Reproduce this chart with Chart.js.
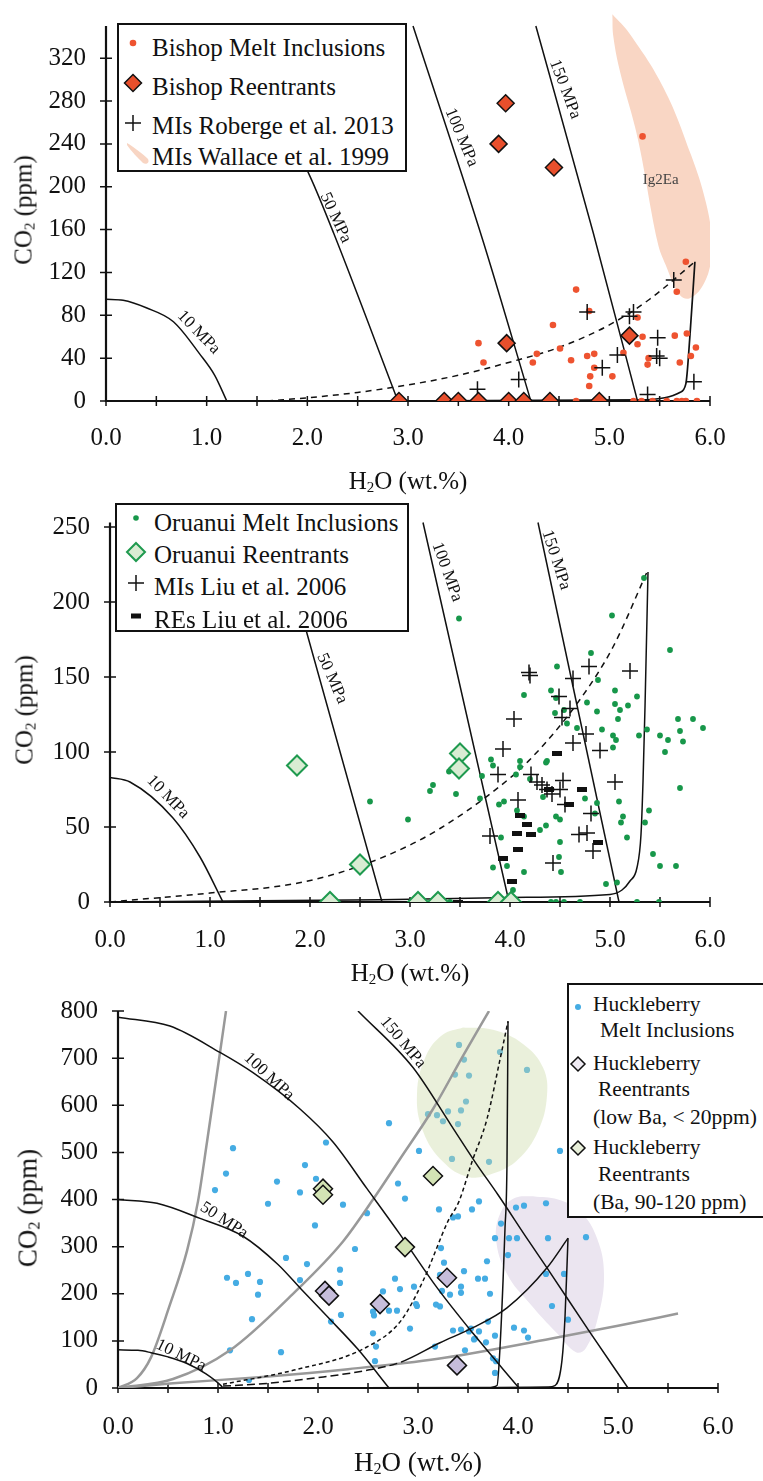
<!DOCTYPE html>
<html lang="en">
<head>
<meta charset="UTF-8"/>
<title>H2O - CO2 of melt inclusions and reentrants</title>
<script src="https://cdn.jsdelivr.net/npm/chart.js"></script>
<style>
    html, body {
        margin: 0;
        background: #fff;
    }
    body {
        position: relative;
        width: 763px;
        height: 1481px;
        overflow: hidden;
        font-family: "Liberation Serif", "Times New Roman", serif;
        color: #111;
    }
    .panel {
        position: absolute;
        left: 0;
        width: 763px;
    }
    .panel canvas {
        position: absolute;
        left: 0;
        top: 0;
    }
    .title {
        position: absolute;
        white-space: nowrap;
        line-height: 1;
        font-size: 25px;
        transform: translate(-50%, -50%);
    }
    .title.y {
        transform: translate(-50%, -50%) rotate(-90deg);
    }
    .title sub {
        font-size: 60%;
        line-height: 0;
        vertical-align: -0.2em;
    }
    .legend {
        position: absolute;
        box-sizing: border-box;
        border: 2px solid #111;
        background: #fff;
    }
    .legend .t {
        position: absolute;
        white-space: nowrap;
        line-height: 1;
        font-size: 25px;
    }
    .legend svg {
        position: absolute;
        overflow: visible;
    }
    #leg3 .t {
        font-size: 21.5px;
    }
</style>
</head>
<body>

<!-- Bishop -->
<div class="panel" style="top:0;height:500px">
    <canvas id="chartBishop" width="763" height="500"></canvas>
    <div class="title y" style="left:23px;top:210px">CO<sub>2</sub> (ppm)</div>
    <div class="title" style="left:408px;top:480px">H<sub>2</sub>O (wt.%)</div>
    <div class="legend" style="left:117px;top:23px;width:290px;height:149px">
        <svg width="1" height="1" style="left:14px;top:18px"><circle r="3.3" fill="#ee5330"/></svg>
        <div class="t" style="left:33px;top:10px">Bishop Melt Inclusions</div>
        <svg width="1" height="1" style="left:14px;top:58px"><polygon points="0,-8.5 8.5,0 0,8.5 -8.5,0" fill="#e84f2c" stroke="#111" stroke-width="1.5"/></svg>
        <div class="t" style="left:33px;top:49px">Bishop Reentrants</div>
        <svg width="1" height="1" style="left:14px;top:98px"><path d="M-8,0H8M0,-8V8" stroke="#111" stroke-width="1.5"/></svg>
        <div class="t" style="left:33px;top:88px">MIs Roberge et al. 2013</div>
        <svg width="1" height="1" style="left:0;top:0"><path d="M8,118 C13,121 24,129 29,134 C31,138 27,140 24,138 C19,133 12,126 8,120 Z" fill="#f8d5c3"/></svg>
        <div class="t" style="left:33px;top:119px">MIs Wallace et al. 1999</div>
    </div>
</div>

<!-- Oruanui -->
<div class="panel" style="top:500px;height:500px">
    <canvas id="chartOruanui" width="763" height="500"></canvas>
    <div class="title y" style="left:24px;top:210px">CO<sub>2</sub> (ppm)</div>
    <div class="title" style="left:410px;top:472px">H<sub>2</sub>O (wt.%)</div>
    <div class="legend" style="left:115px;top:3px;width:294px;height:129px">
        <svg width="1" height="1" style="left:19px;top:13px"><circle r="2.8" fill="#17974a"/></svg>
        <div class="t" style="left:37px;top:5px">Oruanui Melt Inclusions</div>
        <svg width="1" height="1" style="left:19px;top:47px"><polygon points="0,-9 9,0 0,9 -9,0" fill="#d9ecd3" stroke="#1f9a4f" stroke-width="2"/></svg>
        <div class="t" style="left:37px;top:37px">Oruanui Reentrants</div>
        <svg width="1" height="1" style="left:19px;top:78px"><path d="M-8,0H8M0,-8V8" stroke="#111" stroke-width="1.5"/></svg>
        <div class="t" style="left:37px;top:69px">MIs Liu et al. 2006</div>
        <svg width="1" height="1" style="left:19px;top:111px"><rect x="-5" y="-2.5" width="10" height="5" fill="#111"/></svg>
        <div class="t" style="left:37px;top:102px">REs Liu et al. 2006</div>
    </div>
</div>

<!-- Huckleberry -->
<div class="panel" style="top:1000px;height:481px">
    <canvas id="chartHuckleberry" width="763" height="481"></canvas>
    <div class="title y" style="left:28px;top:208px;font-size:27px">CO<sub>2</sub> (ppm)</div>
    <div class="title" style="left:418px;top:462px;font-size:27px">H<sub>2</sub>O (wt.%)</div>
    <div class="legend" id="leg3" style="left:567px;top:-17px;width:205px;height:235px">
        <svg width="1" height="1" style="left:9px;top:22px"><circle r="3" fill="#45ace3"/></svg>
        <div class="t" style="left:24px;top:9px">Huckleberry</div>
        <div class="t" style="left:31px;top:35px">Melt Inclusions</div>
        <svg width="1" height="1" style="left:9px;top:79px"><polygon points="0,-7 7,0 0,7 -7,0" fill="#efebf3" stroke="#111" stroke-width="1.5"/></svg>
        <div class="t" style="left:24px;top:68px">Huckleberry</div>
        <div class="t" style="left:29px;top:94px">Reentrants</div>
        <div class="t" style="left:24px;top:122px">(low Ba, &lt; 20ppm)</div>
        <svg width="1" height="1" style="left:9px;top:163px"><polygon points="0,-7 7,0 0,7 -7,0" fill="#e8efd9" stroke="#111" stroke-width="1.5"/></svg>
        <div class="t" style="left:24px;top:152px">Huckleberry</div>
        <div class="t" style="left:29px;top:179px">Reentrants</div>
        <div class="t" style="left:24px;top:207px">(Ba, 90-120 ppm)</div>
    </div>
</div>

<script>
// ---------- axis ticks ----------
const xTicks = [0, 0.5, 1, 1.5, 2, 2.5, 3, 3.5, 4, 4.5, 5, 5.5, 6];
const yTicksBishop = [0, 40, 80, 120, 160, 200, 240, 280, 320];
const yTicksOruanui = [0, 50, 100, 150, 200, 250];
const yTicksHuck = [0, 100, 200, 300, 400, 500, 600, 700, 800];

// ---------- Bishop (H2O wt.%, CO2 ppm) ----------
const bishopMI = [
    [5.76,130],[5.67,102],[4.67,104],[4.80,84],[4.44,71],[5.28,78],[5.33,60],[5.65,61],[5.77,63],
    [5.28,53],[5.86,50],[3.70,54],[4.51,49],[4.28,44],[5.14,45],[3.75,36],[4.24,36],[4.62,38],
    [4.78,42],[4.85,44],[4.85,31],[4.81,23],[4.80,14],[5.03,23],[5.39,40],[5.38,34],[5.70,36],
    [5.81,42],[4.67,0],[5.24,0],[5.32,0],[5.43,0],[5.57,0],[5.67,0],[5.72,0],[5.76,0],[5.87,0],
    [5.33,247]
];
const bishopRE = [
    [3.97,278],[3.90,240],[4.45,218],[3.98,54],[5.20,61],
    [2.91,0],[3.36,0],[3.50,0],[3.70,0],[4.00,0],[4.15,0],[4.41,0],[4.90,0]
];
const robergeMI = [
    [5.64,113],[4.78,83],[5.24,83],[5.20,79],[5.48,59],[5.08,43],[5.47,42],[5.50,40],
    [4.93,31],[4.10,20],[3.69,11],[5.84,18],[5.38,6]
];
const wallaceField = [
    [5.03,361],[5.20,343],[5.54,292],[5.81,230],[5.96,185],[6.02,150],[6.01,130],[5.93,108],
    [5.80,96],[5.70,99],[5.56,127],[5.48,148],[5.28,246],[5.11,306],[5.04,340],[5.03,361]
];
const bishopIso10 = [[0,95],[0.17,94],[0.40,87],[0.67,74],[0.93,44],[1.08,24],[1.20,0]];
const bishopIso50 = [[1.27,350],[2.03,209],[2.26,157],[2.90,0]];
const bishopIso100 = [[3.05,350],[3.75,148],[4.22,0]];
const bishopIso150 = [[4.27,350],[4.84,157],[5.28,0]];
const bishopOpen = [[1.6,0],[2.0,3],[2.5,8],[3.0,15],[3.5,24],[4.0,36],[4.5,50],[5.0,71],[5.4,95],[5.85,130]];
const bishopClosed = [[2.9,0],[5.3,1],[5.55,3],[5.70,8],[5.76,16],[5.80,60],[5.85,130]];

// ---------- Oruanui ----------
const oruanuiMI = [
    [5.34,216],[3.49,189],[5.02,191],[5.60,168],[4.81,166],[4.47,157],[4.88,148],[5.05,141],[4.41,141],
    [4.14,138],[5.27,137],[4.77,133],[5.05,132],[4.46,136],[5.10,128],[5.18,131],[4.54,128],[4.87,127],
    [4.45,126],[5.08,122],[5.68,122],[5.83,122],[5.93,116],[4.57,119],[4.67,116],[4.92,115],[5.37,115],
    [5.70,114],[5.50,111],[5.58,108],[5.73,107],[5.29,111],[5.03,111],[5.06,108],[5.03,103],[5.55,100],
    [3.81,95],[4.10,94],[4.37,94],[3.39,87],[3.23,78],[3.20,74],[3.46,72],[2.98,55],[3.72,84],[3.83,91],
    [4.10,90],[4.06,85],[4.20,82],[4.36,93],[3.70,69],[3.89,65],[3.94,67],[4.33,70],[4.75,69],[4.87,66],
    [4.85,59],[4.46,57],[4.50,55],[4.14,57],[4.07,61],[4.36,51],[4.30,48],[3.91,43],[4.50,40],[4.49,30],
    [4.51,20],[3.83,23],[3.97,24],[4.14,20],[4.03,8],[4.96,12],[5.07,13],[5.09,67],[5.13,57],[5.11,53],
    [5.17,43],[5.39,61],[5.35,53],[5.43,32],[5.50,24],[5.66,24],[5.70,76],[2.60,67],
    [3.40,0],[4.41,0],[4.46,0],[4.54,0],[4.70,0],[5.27,0],[5.49,0]
];
const oruanuiRE = [[1.87,91],[2.50,25],[2.20,0],[3.50,99],[3.49,89],[3.08,0],[3.28,0],[3.88,0],[4.01,0]];
const liuMI = [
    [4.19,153],[4.20,151],[4.79,157],[5.20,154],[4.63,149],[4.49,137],[4.60,129],[4.52,123],[4.04,122],
    [4.76,112],[4.63,106],[3.93,102],[4.90,101],[3.88,85],[4.21,85],[4.27,80],[4.32,78],[4.37,75],
    [4.42,72],[4.50,75],[4.53,81],[5.05,80],[4.08,68],[4.55,65],[4.81,59],[3.80,44],[4.69,45],[4.77,46],
    [4.83,34],[4.43,26]
];
const liuRE = [
    [4.47,99],[4.39,75],[4.72,75],[4.59,65],[4.10,58],[4.17,52],[4.07,46],[4.21,45],[4.88,40],
    [4.08,35],[3.93,29],[4.02,14],[3.48,0]
];
const oruanuiIso10 = [[0,83],[0.2,80],[0.63,56],[0.9,30],[1.13,0]];
const oruanuiIso50 = [[1.66,253],[2.72,0]];
const oruanuiIso100 = [[3.13,253],[3.99,0]];
const oruanuiIso150 = [[4.28,253],[5.09,0]];
const oruanuiOpen = [[0,0],[1.0,6],[1.87,12.5],[2.5,24],[3.0,38],[3.3,49],[3.8,72],[4.2,95],[4.7,135],[5.03,170],[5.37,220]];
const oruanuiClosed = [[0,0],[2.7,1.5],[4.0,3],[5.0,5],[5.12,8],[5.2,14],[5.27,23],[5.31,45],[5.33,80],[5.35,130],[5.38,220]];

// ---------- Huckleberry ----------
const huckMI = [
    [1.15,509],[1.08,455],[0.97,420],[2.08,521],[1.87,473],[1.98,444],[1.59,438],[1.82,415],[1.50,391],
    [2.25,389],[2.49,371],[1.97,345],[2.71,562],[2.80,434],[3.41,728],[3.82,713],[3.46,697],[4.09,675],
    [3.37,665],[3.51,663],[3.48,608],[3.10,581],[3.19,579],[3.30,587],[3.43,589],[3.25,566],[3.40,560],
    [3.01,503],[3.34,486],[3.71,480],[4.42,503],[2.87,402],[3.21,379],[3.61,396],[3.54,379],[3.35,362],
    [3.40,364],[3.83,349],[3.98,383],[4.06,387],[4.28,392],[3.77,318],[3.91,318],[3.99,318],[4.30,318],
    [4.68,320],[2.37,295],[1.68,276],[1.89,263],[2.22,251],[2.22,223],[1.82,229],[1.09,234],[1.18,223],
    [1.30,242],[1.42,225],[1.40,198],[1.34,146],[1.12,80],[1.63,76],[1.31,17],[2.13,141],[2.23,155],
    [2.65,205],[2.77,232],[2.82,210],[2.96,215],[2.71,164],[2.79,164],[2.55,162],[2.56,154],[2.98,178],
    [2.99,174],[2.55,116],[2.58,88],[2.57,57],[2.92,126],[3.23,297],[3.26,266],[3.46,248],[3.22,240],
    [3.24,206],[3.32,198],[3.43,215],[3.43,202],[3.60,232],[3.67,232],[3.69,269],[3.72,200],[3.18,177],
    [3.22,173],[3.35,122],[3.43,124],[3.51,120],[3.53,126],[3.61,120],[3.56,103],[3.57,105],[3.68,97],
    [3.70,141],[3.17,88],[3.47,80],[3.77,111],[3.75,63],[3.78,57],[3.77,32],[3.90,282],[4.28,242],
    [4.46,242],[4.34,174],[4.50,145],[3.96,128],[4.06,122],[4.10,107]
];
const huckRELowBa = [[2.07,206],[2.11,196],[2.62,178],[3.29,234],[3.39,48]];
const huckREHighBa = [[2.05,423],[2.05,410],[3.15,450],[2.87,299]];
const greenField = [
    [3.45,765],[3.75,760],[4.05,730],[4.25,680],[4.29,620],[4.20,545],[4.00,485],[3.75,455],
    [3.50,448],[3.25,480],[3.05,545],[2.99,625],[3.08,705],[3.25,750],[3.45,765]
];
const purpleField = [
    [4.15,407],[4.40,400],[4.62,375],[4.79,318],[4.86,240],[4.80,150],[4.68,85],[4.58,76],
    [4.39,116],[4.12,179],[3.89,242],[3.78,318],[3.84,378],[3.98,404],[4.15,407]
];
const huckIso10 = [[0,81],[0.2,80],[0.33,75],[0.5,66],[0.69,52],[0.88,30],[1.03,5],[1.05,0]];
const huckIso50 = [[0,400],[0.39,392],[0.82,360],[1.25,322],[1.6,262],[1.83,210],[2.1,150],[2.4,82],[2.71,0]];
const huckIso100 = [[0,787],[0.52,768],[1.02,712],[1.35,669],[1.82,592],[2.15,522],[2.49,423],[2.82,326],[3.19,213],[3.55,116],[4.01,0]];
const huckIso150 = [[2.40,800],[2.95,680],[3.33,558],[3.57,480],[3.80,410],[4.11,311],[4.29,255],[4.72,118],[5.10,0]];
const grayA = [[0,0],[0.19,21],[0.33,65],[0.51,171],[0.69,291],[0.80,396],[0.89,522],[1.02,712],[1.08,800]];
const grayB = [[0,0],[0.55,19],[1.12,80],[1.76,202],[2.25,311],[2.55,400],[2.82,486],[3.15,592],[3.45,705],[3.71,800]];
const grayC = [[0,0],[0.55,10],[1.41,23],[2.3,40],[3.2,62],[4.39,107],[5.0,132],[5.6,158]];
const huckOpenA = [[1.05,8],[1.76,38],[2.48,86],[2.83,143],[3.05,227],[3.30,354],[3.41,396],[3.54,480],[3.69,571],[3.82,697],[3.90,778]];
const huckClosedA = [[1.0,0],[3.7,1],[3.79,5],[3.82,86],[3.87,339],[3.89,480],[3.90,778]];
const huckOpenB = [[1.05,4],[1.5,10],[2.0,22],[2.5,38],[2.83,55],[3.22,96],[3.55,128],[3.89,170],[4.29,255],[4.50,318]];
const huckClosedB = [[3.8,1],[4.3,2],[4.37,5],[4.44,59],[4.47,150],[4.50,318]];

// ---------- isobar labels ----------
const bishopLabels = [
    {text: '10 MPa', x: 0.92, y: 64, angle: 46},
    {text: '50 MPa', x: 2.28, y: 171, angle: 65},
    {text: '100 MPa', x: 3.53, y: 246, angle: 67},
    {text: '150 MPa', x: 4.56, y: 291, angle: 69},
    {text: 'Ig2Ea', x: 5.51, y: 206, angle: 0, font: '15px "Liberation Serif"', color: '#444'}
];
const oruanuiLabels = [
    {text: '10 MPa', x: 0.58, y: 70, angle: 46},
    {text: '50 MPa', x: 2.22, y: 149, angle: 66},
    {text: '100 MPa', x: 3.37, y: 220, angle: 70},
    {text: '150 MPa', x: 4.46, y: 228, angle: 72}
];
const huckLabels = [
    {text: '10 MPa', x: 0.63, y: 69, angle: 26},
    {text: '50 MPa', x: 1.06, y: 356, angle: 33},
    {text: '100 MPa', x: 1.51, y: 661, angle: 43},
    {text: '150 MPa', x: 2.85, y: 733, angle: 50}
];

const xy = arr => arr.map(([x, y]) => ({x, y}));

function lineSet(arr, extra) {
    return Object.assign({
        data: xy(arr), showLine: true, pointRadius: 0, borderColor: '#111', borderWidth: 1.5,
        fill: false, cubicInterpolationMode: 'monotone', order: 5
    }, extra);
}

function fieldSet(arr, color, order) {
    return {
        data: xy(arr), showLine: true, pointRadius: 0, borderWidth: 0, borderColor: 'rgba(0,0,0,0)',
        backgroundColor: color, fill: 'shape', tension: 0.4, order: order, clip: false
    };
}

function markSet(arr, extra) {
    return Object.assign({data: xy(arr), showLine: false, borderWidth: 0, order: 1}, extra);
}

// black bar marker for the Liu et al. reentrants
function barMarker(w, h) {
    const c = document.createElement('canvas');
    c.width = w;
    c.height = h;
    const g = c.getContext('2d');
    g.fillStyle = '#111';
    g.fillRect(0, 0, w, h);
    return c;
}

// axes that cross their tick marks, like the original figure
function crossAxes(yTop) {
    return {
        id: 'crossAxes',
        beforeDatasetsDraw(chart) {
            const {ctx, scales: {x, y}} = chart;
            const x0 = x.getPixelForValue(x.min);
            const x1 = x.getPixelForValue(x.max);
            const y0 = y.getPixelForValue(0);
            const yT = y.getPixelForValue(yTop);
            ctx.save();
            ctx.strokeStyle = '#111';
            ctx.lineWidth = 2.2;
            ctx.beginPath();
            ctx.moveTo(x0, yT);
            ctx.lineTo(x0, y0);
            ctx.lineTo(x1, y0);
            ctx.stroke();
            ctx.lineWidth = 1.5;
            ctx.beginPath();
            x.ticks.forEach(t => {
                const px = x.getPixelForValue(t.value);
                ctx.moveTo(px, y0 - 5);
                ctx.lineTo(px, y0 + 5);
            });
            y.ticks.forEach(t => {
                const py = y.getPixelForValue(t.value);
                ctx.moveTo(x0 - 6, py);
                ctx.lineTo(x0 + 6, py);
            });
            ctx.stroke();
            ctx.restore();
        }
    };
}

function textLabels(items) {
    return {
        id: 'textLabels',
        afterDatasetsDraw(chart) {
            const {ctx, scales: {x, y}} = chart;
            items.forEach(it => {
                ctx.save();
                ctx.translate(x.getPixelForValue(it.x), y.getPixelForValue(it.y));
                ctx.rotate(it.angle * Math.PI / 180);
                ctx.font = it.font || '17px "Liberation Serif"';
                ctx.fillStyle = it.color || '#111';
                ctx.textAlign = 'center';
                ctx.textBaseline = 'middle';
                ctx.fillText(it.text, 0, 0);
                ctx.restore();
            });
        }
    };
}

const tickFont = {family: '"Liberation Serif", "Times New Roman", serif', size: 25};

// cfg: pixel frame of the plot area inside the canvas
function makePanel(id, cfg, datasets, labels) {
    const canvas = document.getElementById(id);
    return new Chart(canvas, {
        type: 'scatter',
        data: {datasets: datasets},
        options: {
            responsive: false,
            animation: false,
            events: [],
            layout: {padding: {top: cfg.top, right: canvas.width - cfg.right, left: 0, bottom: 0}},
            plugins: {legend: {display: false}, tooltip: {enabled: false}},
            scales: {
                x: {
                    type: 'linear', min: 0, max: 6,
                    afterBuildTicks: s => { s.ticks = xTicks.map(v => ({value: v})); },
                    afterFit: s => { s.height = canvas.height - cfg.bottom; s.paddingLeft = 0; s.paddingRight = 0; },
                    grid: {display: false, drawTicks: false},
                    border: {display: false},
                    ticks: {
                        font: tickFont, color: '#111', padding: cfg.xPad,
                        maxRotation: 0, minRotation: 0, autoSkip: false,
                        callback: v => Number.isInteger(v) ? v.toFixed(1) : ''
                    }
                },
                y: {
                    type: 'linear', min: 0, max: cfg.yMax,
                    afterBuildTicks: s => { s.ticks = cfg.yTicks.map(v => ({value: v})); },
                    afterFit: s => { s.width = cfg.left; s.paddingTop = 0; s.paddingBottom = 0; },
                    grid: {display: false, drawTicks: false},
                    border: {display: false},
                    ticks: {font: tickFont, color: '#111', padding: 20, callback: v => String(v)}
                }
            }
        },
        plugins: [crossAxes(cfg.yAxisTop), textLabels(labels)]
    });
}

makePanel('chartBishop',
    {left: 106, right: 710, top: 3, bottom: 401, yMax: 365, yAxisTop: 350, xPad: 22, yTicks: yTicksBishop},
    [
        markSet(bishopRE, {pointStyle: 'rectRot', pointRadius: 8.5, backgroundColor: '#e84f2c', borderColor: '#111', borderWidth: 1.5, order: 0}),
        markSet(robergeMI, {pointStyle: 'cross', pointRadius: 8, borderColor: '#111', borderWidth: 1.5, order: 1}),
        markSet(bishopMI, {pointStyle: 'circle', pointRadius: 3.3, backgroundColor: '#ee5330', order: 2}),
        lineSet(bishopIso10),
        lineSet(bishopIso50),
        lineSet(bishopIso100),
        lineSet(bishopIso150),
        lineSet(bishopOpen, {borderDash: [6, 5]}),
        lineSet(bishopClosed, {borderWidth: 1.7}),
        fieldSet(wallaceField, '#f9d6c4', 10)
    ],
    bishopLabels);

makePanel('chartOruanui',
    {left: 110, right: 710, top: 7, bottom: 402, yMax: 260, yAxisTop: 253, xPad: 23, yTicks: yTicksOruanui},
    [
        markSet(oruanuiRE, {pointStyle: 'rectRot', pointRadius: 10, backgroundColor: '#d9ecd3', borderColor: '#1f9a4f', borderWidth: 2, order: 0}),
        markSet(liuMI, {pointStyle: 'cross', pointRadius: 8, borderColor: '#111', borderWidth: 1.5, order: 1}),
        markSet(liuRE, {pointStyle: barMarker(10, 5), pointRadius: 5, order: 1}),
        markSet(oruanuiMI, {pointStyle: 'circle', pointRadius: 2.9, backgroundColor: '#17974a', order: 2}),
        lineSet(oruanuiIso10),
        lineSet(oruanuiIso50),
        lineSet(oruanuiIso100),
        lineSet(oruanuiIso150),
        lineSet(oruanuiOpen, {borderDash: [6, 5]}),
        lineSet(oruanuiClosed)
    ],
    oruanuiLabels);

makePanel('chartHuckleberry',
    {left: 118, right: 718, top: 8, bottom: 388, yMax: 800, yAxisTop: 800, xPad: 24, yTicks: yTicksHuck},
    [
        markSet(huckRELowBa, {pointStyle: 'rectRot', pointRadius: 9.5, backgroundColor: '#c6bddb', borderColor: '#111', borderWidth: 1.5, order: 0}),
        markSet(huckREHighBa, {pointStyle: 'rectRot', pointRadius: 9.5, backgroundColor: '#d3e3b4', borderColor: '#111', borderWidth: 1.5, order: 0}),
        lineSet(huckIso10, {order: 3}),
        lineSet(huckIso50, {order: 3}),
        lineSet(huckIso100, {order: 3}),
        lineSet(huckIso150, {order: 3}),
        lineSet(huckOpenA, {borderDash: [4, 3], order: 3}),
        lineSet(huckClosedA, {order: 3}),
        lineSet(huckOpenB, {order: 3, segment: {borderDash: c => c.p0.parsed.x < 2.6 ? [8, 4] : undefined}}),
        lineSet(huckClosedB, {order: 3}),
        lineSet(grayA, {borderColor: '#999', borderWidth: 2.5, order: 3}),
        lineSet(grayB, {borderColor: '#999', borderWidth: 2.5, order: 3}),
        lineSet(grayC, {borderColor: '#999', borderWidth: 2.5, order: 3}),
        fieldSet(greenField, 'rgba(205,220,170,0.42)', 4),
        markSet(huckMI, {pointStyle: 'circle', pointRadius: 3.1, backgroundColor: '#45ace3', order: 5}),
        fieldSet(purpleField, '#ebe5f0', 10)
    ],
    huckLabels);
</script>
</body>
</html>
